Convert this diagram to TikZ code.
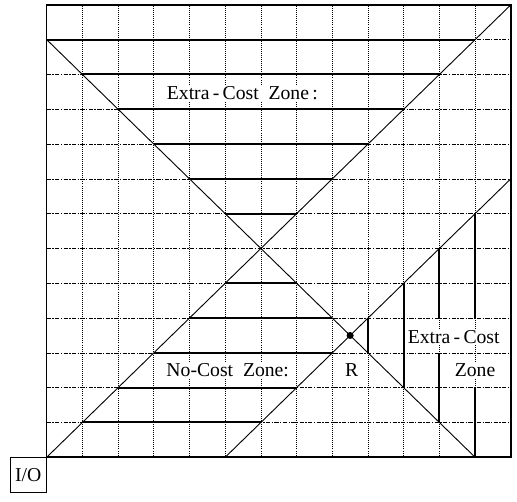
\documentclass[tikz,border=0pt]{standalone}
\usepackage{fontspec}
\setmainfont{Liberation Serif}
\begin{document}
\begin{tikzpicture}[x=0.8925cm,y=0.87cm,
        colline/.style={line width=0.45pt,densely dotted},
        rowline/.style={line width=0.45pt,dash pattern=on 3pt off 1pt on 1pt off 1pt},
        zoneline/.style={line width=1.4pt},
        diagline/.style={line width=0.65pt},
        zonetext/.style={fill=white,inner sep=1pt,font=\fontsize{14}{16}\selectfont}]
            \useasboundingbox (-1.308,-1.284) rectangle (13.174,13.14);
            \foreach \i in {1,...,12} \draw[colline] (\i,0) -- (\i,13);
            \foreach \j in {1,...,12} \draw[rowline] (0,\j) -- (13,\j);
            \node[zonetext] (extratop) at (5.48,10.46) {Extra\,-\,Cost\ \ Zone\,:};
            \node[zonetext] (nocost) at (5.07,2.5) {No-Cost\ \ Zone:};
            \node[zonetext] (rcell) at (8.54,2.5) {R};
            \node[zonetext] (extraright) at (11.4,3.45) {Extra\,-\,Cost};
            \node[zonetext] (zoneright) at (12.0,2.5) {Zone};
            \foreach \j in {7,...,12} \draw[zoneline] ({12-\j},\j) -- (\j,\j);
            \foreach \j in {1,...,5} \draw[zoneline] (\j,\j) -- ({min(\j+5,12-\j)},\j);
            \draw[zoneline] (9,3) -- (9,4) (10,2) -- (10,5);
            \draw[zoneline] (11,1) -- (11,3) (11,4) -- (11,6);
            \draw[zoneline] (12,0) -- (12,2) (12,4) -- (12,7);
            \coordinate (io) at (0,0);
            \coordinate (topright) at (13,13);
            \draw[diagline] (io) -- (topright);
            \draw[diagline] (0,12) -- (12,0);
            \draw[diagline] (5,0) -- (13,8);
            \fill (8.5,3.5) circle (2.5pt);
            \draw[line width=1.1pt] (io) rectangle (topright);
            \node[draw,line width=0.8pt,anchor=north east,inner sep=0pt,
                minimum width=0.8925cm,minimum height=0.87cm,
                font=\fontsize{14}{16}\selectfont] (iobox) at (io) {I/O};
        \end{tikzpicture}
\end{document}
